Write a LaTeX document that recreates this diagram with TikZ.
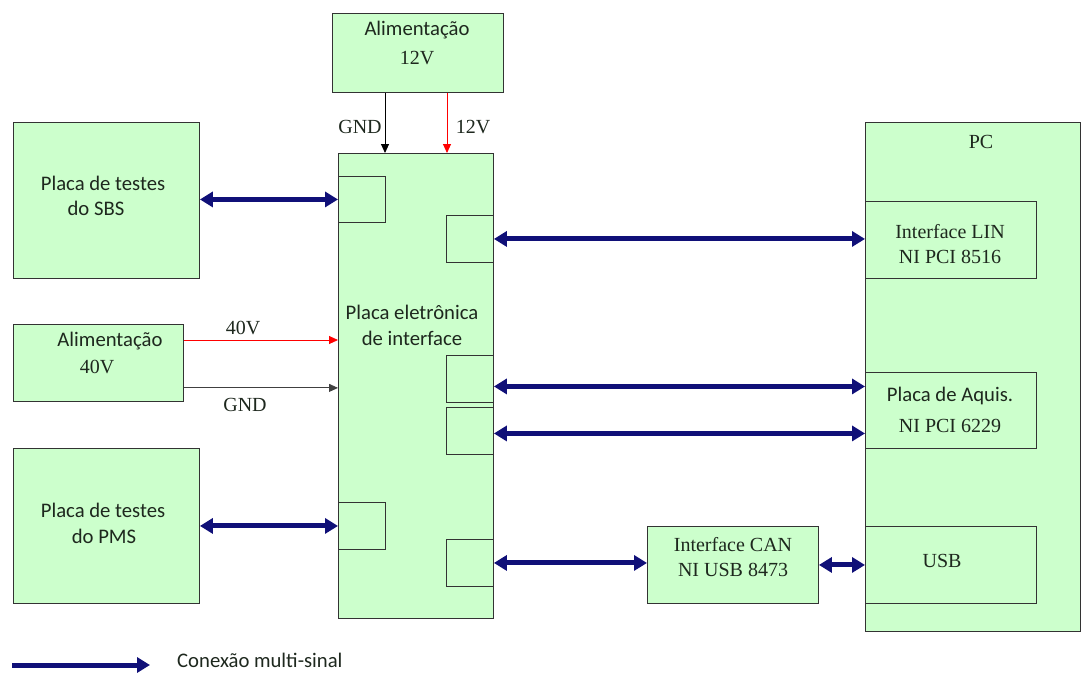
\documentclass[tikz,border=0pt]{standalone}
\usepackage{fontspec}
\setmainfont{Liberation Serif}
\newfontfamily\sansfnt{Carlito}
\usetikzlibrary{arrows.meta}
\definecolor{boxgreen}{RGB}{204,255,204}
\definecolor{navyarrow}{RGB}{16,16,120}
\definecolor{txt}{RGB}{30,40,30}
\begin{document}
\begin{tikzpicture}[x=1pt,y=-1pt,
  box/.style={draw=black!80, fill=boxgreen, line width=0.9pt, rectangle, inner sep=0pt, anchor=north west},
  sf/.style={font=\sansfnt\fontsize{20.7}{22}\selectfont, text=txt, inner sep=0pt},
  rm/.style={font=\fontsize{20}{22}\selectfont, text=txt, inner sep=0pt},
  multi/.style={draw=navyarrow, line width=5pt, {Triangle[length=13pt,width=15pt]}-{Triangle[length=13pt,width=15pt]}},
  legarrow/.style={draw=navyarrow, line width=5pt, -{Triangle[length=13pt,width=15pt]}},
  thin/.style={line width=0.9pt, -{Triangle[length=9pt,width=8pt]}}]
\useasboundingbox[fill=white] (0,0) rectangle (1091,672);

% boxes
\node[box, minimum width=171pt, minimum height=79pt] (a12) at (332,13) {};
\node[box, minimum width=186pt, minimum height=156pt] (sbs) at (13,122) {};
\node[box, minimum width=186pt, minimum height=155pt] (pms) at (13,448) {};
\node[box, minimum width=170pt, minimum height=77pt] (a40) at (13,324) {};
\node[box, minimum width=155pt, minimum height=465pt] (pe) at (338,153) {};
\node[box, minimum width=47pt, minimum height=46pt] (psbs) at (338,176) {};
\node[box, minimum width=47pt, minimum height=47pt] (ppms) at (338,502) {};
\node[box, minimum width=47pt, minimum height=47pt] (plin) at (446,215) {};
\node[box, minimum width=47pt, minimum height=47pt] (pa1) at (446,355) {};
\node[box, minimum width=47pt, minimum height=47pt] (pa2) at (446,407) {};
\node[box, minimum width=47pt, minimum height=47pt] (pcan) at (446,539) {};
\node[box, minimum width=215pt, minimum height=509pt] (pc) at (865,122) {};
\node[box, minimum width=171pt, minimum height=77pt] (lin) at (865,201) {};
\node[box, minimum width=171pt, minimum height=76pt] (aq) at (865,372) {};
\node[box, minimum width=171pt, minimum height=77pt] (usb) at (865,526) {};
\node[box, minimum width=171pt, minimum height=77pt] (can) at (647,526) {};

% texts
\node[sf] (t12a) at (417,30) {Alimentação};
\node[rm] (t12b) at (417,58) {12V};
\node[rm] (lgnd1) at (360,127) {GND};
\node[rm] (l12v) at (473,127) {12V};
\node[sf] (tsbs1) at (103,183) {Placa de testes};
\node[sf] (tsbs2) at (96,208) {do SBS};
\node[sf] (tpms1) at (103,510) {Placa de testes};
\node[sf] (tpms2) at (104,536) {do PMS};
\node[sf] (tpe1) at (412,312) {Placa eletrônica};
\node[sf] (tpe2) at (412,338) {de interface};
\node[sf] (t40a) at (110,341) {Alimentação};
\node[rm] (t40b) at (97,367) {40V};
\node[rm] (l40v) at (243,328) {40V};
\node[rm] (lgnd2) at (245,405) {GND};
\node[rm] (tpc) at (981,142) {PC};
\node[rm] (tlin1) at (950,232) {Interface LIN};
\node[rm] (tlin2) at (950,257) {NI PCI 8516};
\node[sf] (taq1) at (950,396) {Placa de Aquis.};
\node[rm] (taq2) at (950,426) {NI PCI 6229};
\node[rm] (tusb) at (942,561) {USB};
\node[rm] (tcan1) at (733,545) {Interface CAN};
\node[rm] (tcan2) at (733,570) {NI USB 8473};

% power connectors
\draw[thin, black] ([xshift=53pt]a12.south west) -- ([xshift=53pt]a12.south west |- pe.north);
\draw[thin, red] ([xshift=115pt]a12.south west) -- ([xshift=115pt]a12.south west |- pe.north);
\draw[thin, red] ([yshift=-16pt]a40.north east) -- ([yshift=-16pt]a40.north east -| pe.west);
\draw[thin, black!75] ([yshift=14pt]a40.south east) -- ([yshift=14pt]a40.south east -| pe.west);

% multi-signal connectors
\draw[multi] (sbs.east |- psbs.west) -- (psbs.west);
\draw[multi] (pms.east |- ppms.west) -- (ppms.west);
\draw[multi] (plin.east) -- (plin.east -| lin.west);
\draw[multi] ([yshift=-7.5pt]pa1.east) -- ([yshift=-7.5pt]pa1.east -| aq.west);
\draw[multi] ([yshift=-2.5pt]pa2.east) -- ([yshift=-2.5pt]pa2.east -| aq.west);
\draw[multi] (pcan.east) -- (pcan.east -| can.west);
\draw[multi] (can.east) -- (usb.west);

% legend
\coordinate (leg1) at (12,665);
\coordinate (leg2) at (150,665);
\draw[legarrow] (leg1) -- (leg2);
\node[sf, anchor=west] (tleg) at (177,660) {Conexão multi-sinal};
\end{tikzpicture}
\end{document}
